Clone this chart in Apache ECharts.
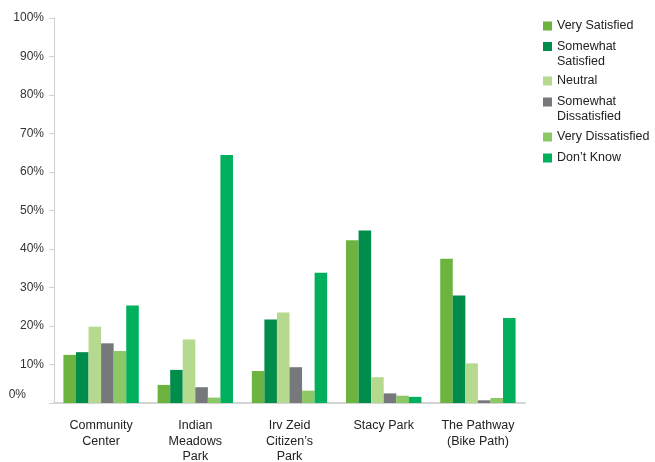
<!DOCTYPE html>
<html>
<head>
<meta charset="utf-8">
<script src="https://cdn.jsdelivr.net/npm/echarts@6/dist/echarts.min.js"></script>
<style>html,body{margin:0;padding:0;background:#fff}#c{width:655px;height:462px}</style>
</head>
<body>
<div id="c"></div>
<script>
const categories = ['Community\nCenter', 'Indian\nMeadows\nPark', 'Irv Zeid\nCitizen\u2019s\nPark', 'Stacy Park', 'The Pathway\n(Bike Path)'];
const seriesNames = ['Very Satisfied', 'Somewhat Satisfied', 'Neutral', 'Somewhat Dissatisfied', 'Very Dissatisfied', "Don\u2019t Know"];
const legendLabels = ['Very Satisfied', 'Somewhat\nSatisfied', 'Neutral', 'Somewhat\nDissatisfied', 'Very Dissatisfied', "Don\u2019t Know"];
const colors = ['#6db33f', '#008c4a', '#b5d98f', '#77787b', '#8cc866', '#00b05c'];
const verySatisfied = [12.5, 4.7, 8.3, 42.3, 37.5];
const somewhatSatisfied = [13.2, 8.6, 21.7, 44.8, 27.9];
const neutral = [19.8, 16.5, 23.5, 6.7, 10.3];
const somewhatDissatisfied = [15.5, 4.1, 9.3, 2.5, 0.7];
const veryDissatisfied = [13.5, 1.4, 3.2, 1.9, 1.3];
const dontKnow = [25.3, 64.4, 33.8, 1.6, 22.1];
const yTicks = [0, 10, 20, 30, 40, 50, 60, 70, 80, 90, 100];

const allValues = [verySatisfied, somewhatSatisfied, neutral, somewhatDissatisfied, veryDissatisfied, dontKnow];
const legendIconCenters = [26, 46.5, 81, 102, 137, 158];
const LH = 15;

const legends = seriesNames.map((n, i) => {
  const twoLine = legendLabels[i].indexOf('\n') >= 0;
  // a blank leading line keeps the first text line level with the icon
  const label = twoLine ? ' \n' + legendLabels[i] : legendLabels[i];
  return {
    orient: 'vertical',
    left: 543,
    top: twoLine ? legendIconCenters[i] - 4.5 - 1.5 * LH + 4.5 : legendIconCenters[i] - 4.5 - (LH / 2 - 4.5),
    padding: 0,
    itemWidth: 9,
    itemHeight: 9,
    icon: 'rect',
    formatter: () => label,
    textStyle: {
      fontFamily: 'Liberation Sans, Arial, sans-serif',
      fontSize: 12.5,
      color: '#222',
      lineHeight: LH
    },
    data: [n]
  };
});

const chart = echarts.init(document.getElementById('c'));
chart.setOption({
  animation: false,
  color: colors,
  legend: legends,
  grid: { left: 54, right: 130, top: 18, bottom: 59, containLabel: false, outerBoundsMode: 'none' },
  xAxis: {
    type: 'category',
    data: categories,
    axisLine: { show: true, lineStyle: { color: '#d4d4d4', width: 2 } },
    axisTick: { show: false },
    axisLabel: {
      margin: 15,
      interval: 0,
      fontFamily: 'Liberation Sans, Arial, sans-serif',
      fontSize: 12.5,
      color: '#222',
      lineHeight: 15.5
    }
  },
  yAxis: {
    type: 'value',
    min: yTicks[0],
    max: yTicks[yTicks.length - 1],
    interval: 10,
    splitLine: { show: false },
    axisLine: { show: true, lineStyle: { color: '#d0d0d8', width: 1 } },
    axisTick: { show: true, length: 5, lineStyle: { color: '#d0d0d8' } },
    axisLabel: {
      margin: 10,
      fontFamily: 'Liberation Sans, Arial, sans-serif',
      fontSize: 12,
      color: '#333',
      formatter: v => v === 0 ? '{z|0%}' : v + '%',
      rich: { z: { fontFamily: 'Liberation Sans, Arial, sans-serif', fontSize: 12, color: '#333', padding: [0, 18, 16, 0] } }
    }
  },
  series: seriesNames.map((n, i) => ({
    name: n,
    type: 'bar',
    data: allValues[i],
    barGap: '0%',
    barCategoryGap: '20%',
    itemStyle: { color: colors[i] }
  }))
});
</script>
</body>
</html>
